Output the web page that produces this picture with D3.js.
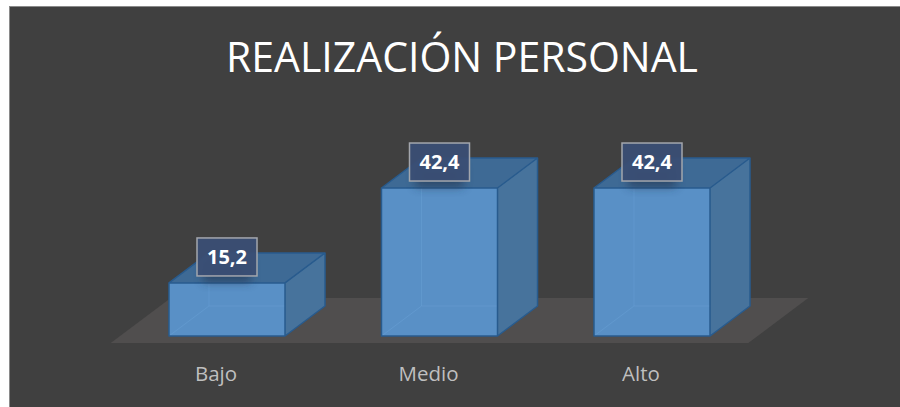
<!DOCTYPE html>
<html>
<head>
<meta charset="utf-8">
<script src="https://cdn.jsdelivr.net/npm/d3@7"></script>
<style>
  html, body { margin: 0; padding: 0; background: #ffffff; }
  svg { display: block; }
</style>
</head>
<body>
<div id="chart"></div>
<script>
// ---- data ----
const title = "REALIZACIÓN PERSONAL";
const categories = ["Bajo", "Medio", "Alto"];
const values = [15.2, 42.4, 42.4];
const valueLabels = ["15,2", "42,4", "42,4"];

// ---- layout ----
const W = 900, H = 407;
const depthX = 40, depthY = -30;

const svg = d3.select("#chart").append("svg")
  .attr("width", W).attr("height", H);

const defs = svg.append("defs");
const f = defs.append("filter").attr("id", "glow")
  .attr("x", "-50%").attr("y", "-50%").attr("width", "200%").attr("height", "200%");
f.append("feGaussianBlur").attr("stdDeviation", 5);

// chart background and border
svg.append("rect").attr("x", 9.5).attr("y", 6.5)
  .attr("width", W).attr("height", H)
  .attr("fill", "#404040").attr("stroke", "#8a8a8a").attr("stroke-width", 1);

// scales
const x = d3.scaleBand().domain(categories)
  .range([120.75, 758.25]).paddingInner(0.454).paddingOuter(0.227);
const y = d3.scaleLinear().domain([0, 50]).range([336, 336 - 50 * 3.49]);

// title
svg.append("text")
  .attr("x", 462).attr("y", 72)
  .attr("text-anchor", "middle")
  .attr("font-family", "'Open Sans', sans-serif")
  .attr("font-size", 42)
  .attr("fill", "#ffffff")
  .attr("textLength", 472).attr("lengthAdjust", "spacingAndGlyphs")
  .text(title);

// floor
const y0 = y(0);
const fl = x.range()[0] - 10, fr = x.range()[1] - 10;
const floorFront = y0 + 7, floorBack = y0 + depthY - 8;
const fdx = (floorFront - floorBack) * (depthX / -depthY);
svg.append("path")
  .attr("d", `M${fl},${floorFront} L${fr},${floorFront} L${fr + fdx},${floorBack} L${fl + fdx},${floorBack} Z`)
  .attr("fill", "#504e4e");

// bars
const bars = svg.append("g");
categories.forEach((c, i) => {
  const g = bars.append("g");
  const x0 = x(c), x1 = x(c) + x.bandwidth();
  const yt = y(values[i]), yb = y(0);
  const dx = depthX, dy = depthY;

  // front face
  g.append("path")
    .attr("d", `M${x0},${yt} L${x1},${yt} L${x1},${yb} L${x0},${yb} Z`)
    .attr("fill", "#5990c6");
  // hidden edges seen through the translucent faces
  g.append("path")
    .attr("d", `M${x0},${yb} L${x0 + dx},${yb + dy} L${x1 + dx},${yb + dy} M${x0 + dx},${yb + dy} L${x0 + dx},${yt + dy}`)
    .attr("fill", "none").attr("stroke", "#6aa2d8").attr("stroke-opacity", 0.45).attr("stroke-width", 1);
  // side face
  g.append("path")
    .attr("d", `M${x1},${yt} L${x1 + dx},${yt + dy} L${x1 + dx},${yb + dy} L${x1},${yb} Z`)
    .attr("fill", "#47739c");
  // top face
  g.append("path")
    .attr("d", `M${x0},${yt} L${x0 + dx},${yt + dy} L${x1 + dx},${yt + dy} L${x1},${yt} Z`)
    .attr("fill", "#3e6a95");
  // outline
  g.append("path")
    .attr("d", `M${x0},${yb} L${x0},${yt} L${x0 + dx},${yt + dy} L${x1 + dx},${yt + dy} L${x1 + dx},${yb + dy} L${x1},${yb} Z M${x0},${yt} L${x1},${yt} L${x1 + dx},${yt + dy} M${x1},${yt} L${x1},${yb}`)
    .attr("fill", "none").attr("stroke", "#285b8e").attr("stroke-width", 1.5)
    .attr("stroke-linejoin", "round");
});

// value labels
const labels = svg.append("g");
categories.forEach((c, i) => {
  const cx = x(c) + x.bandwidth() / 2;
  const top = y(values[i]) - 45;
  labels.append("rect")
    .attr("x", cx - 24).attr("y", top + 22).attr("width", 48).attr("height", 22)
    .attr("fill", "#20324d").attr("opacity", 0.6).attr("filter", "url(#glow)");
  labels.append("rect")
    .attr("x", cx - 30).attr("y", top).attr("width", 60).attr("height", 38)
    .attr("fill", "#3a4e74").attr("fill-opacity", 0.95)
    .attr("stroke", "#a3a6ad").attr("stroke-width", 1.5);
  labels.append("text")
    .attr("x", cx).attr("y", top + 26)
    .attr("text-anchor", "middle")
    .attr("font-family", "'Open Sans', sans-serif")
    .attr("font-weight", "bold").attr("font-size", 20)
    .attr("fill", "#ffffff")
    .text(valueLabels[i]);
});

// category labels
const axis = svg.append("g");
categories.forEach((c, i) => {
  axis.append("text")
    .attr("x", x(c) + x.bandwidth() / 2 - 11).attr("y", 381)
    .attr("text-anchor", "middle")
    .attr("font-family", "'Open Sans', sans-serif")
    .attr("font-size", 20.5)
    .attr("fill", "#bfbfbf")
    .text(c);
});
</script>
</body>
</html>
